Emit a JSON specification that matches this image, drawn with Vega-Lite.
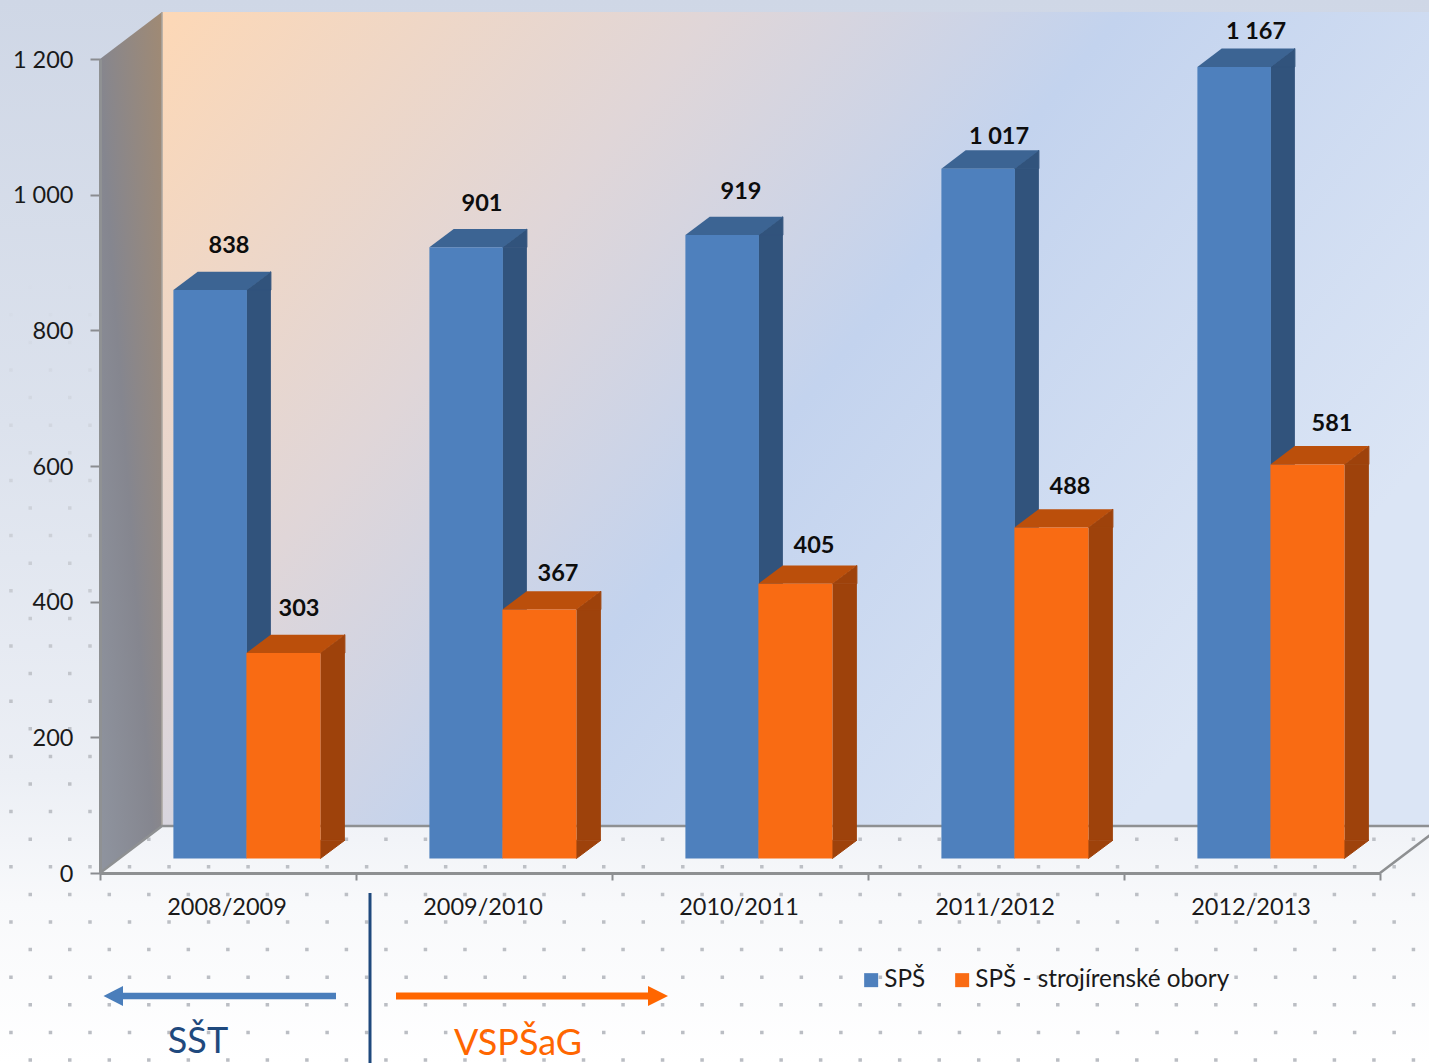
{
"$schema":"https://vega.github.io/schema/vega-lite/v6.json",
"width":1280,"height":814,
"autosize":{"type":"none"},
"padding":{"left":100,"top":59,"right":49,"bottom":190},
"config":{"view":{"stroke":null}},
"datasets":{
"rows":[
{"year":"2008/2009","series":"SPŠ","value":838,"label":"838"},
{"year":"2009/2010","series":"SPŠ","value":901,"label":"901"},
{"year":"2010/2011","series":"SPŠ","value":919,"label":"919"},
{"year":"2011/2012","series":"SPŠ","value":1017,"label":"1 017"},
{"year":"2012/2013","series":"SPŠ","value":1167,"label":"1 167"},
{"year":"2008/2009","series":"SPŠ - strojírenské obory","value":303,"label":"303"},
{"year":"2009/2010","series":"SPŠ - strojírenské obory","value":367,"label":"367"},
{"year":"2010/2011","series":"SPŠ - strojírenské obory","value":405,"label":"405"},
{"year":"2011/2012","series":"SPŠ - strojírenské obory","value":488,"label":"488"},
{"year":"2012/2013","series":"SPŠ - strojírenské obory","value":581,"label":"581"}
],
"decor":[{"note":"frame"}]
},
"data":{"name":"rows"},
"layer":[
{"data":{"name":"decor"},
 "mark":{"type":"bar","width":1429,"xOffset":-25.5,"yOffset":-59,"y2Offset":190,
  "fill":{"gradient":"linear","x1":0,"y1":0,"x2":0,"y2":1,"stops":[{"offset":0,"color":"#cfd7e6"},{"offset":0.4,"color":"#dce2ed"},{"offset":0.73,"color":"#eceff5"},{"offset":0.85,"color":"#f8f9fb"},{"offset":1,"color":"#ffffff"}]}},
 "encoding":{
  "x":{"datum":"2010/2011","type":"nominal","title":null,"scale":{"domain":["2008/2009","2009/2010","2010/2011","2011/2012","2012/2013"],"paddingInner":0,"paddingOuter":0},
   "axis":{"zindex":1,"title":null,"labelAngle":0,"tickBand":"extent","tickSize":7,"tickWidth":2,"tickColor":"#8a8c90","domainColor":"#8e9092","domainWidth":3,"labelPadding":15,"labelOffset":-1.5,"labelFont":"Lato","labelFontSize":23.5,"labelColor":"#1a1a1a","grid":false}},
  "y":{"datum":1200,"type":"quantitative","title":null,"scale":{"domain":[0,1200],"nice":false},
   "axis":{"zindex":1,"title":null,"values":[0,200,400,600,800,1000,1200],"labelExpr":"replace(format(datum.value, ','), ',', ' ')","tickSize":10,"tickWidth":2,"tickColor":"#8a8c90","domainColor":"#8f9193","domainWidth":3,"labelPadding":17,"labelOffset":1,"labelFont":"Lato","labelFontSize":23.5,"labelColor":"#1a1a1a","grid":false}},
  "y2":{"datum":0}}},
{"data":{"name":"decor"},
 "mark":{"type":"point","filled":false,"opacity":1,"size":4,"strokeWidth":3.5,"strokeDash":[3.5,36.02],"xOffset":-228,
  "shape":"M28.5 187H1429M9.2 159.4H1429M28.5 131.8H1429M9.2 104.2H1429M28.5 76.6H1429M9.2 49H1429M28.5 21.4H1429M9.2 -6.2H1429M28.5 -33.8H1429M9.2 -61.4H1429M28.5 -89H1429M9.2 -116.6H1429M28.5 -144.2H1429M9.2 -171.8H1429M28.5 -199.4H1429M9.2 -227H1429M28.5 -254.6H1429M9.2 -282.2H1429M28.5 -309.8H1429M9.2 -337.4H1429M28.5 -365H1429M9.2 -392.6H1429M28.5 -420.2H1429M9.2 -447.8H1429M28.5 -475.4H1429M9.2 -503H1429M28.5 -530.6H1429M9.2 -558.2H1429M28.5 -585.8H1429",
  "stroke":{"gradient":"linear","x1":0,"y1":0,"x2":0,"y2":1,"stops":[{"offset":0,"color":"rgba(186,189,195,0.03)"},{"offset":0.55,"color":"rgba(186,189,195,0.9)"},{"offset":1,"color":"rgba(186,189,195,1)"}]}},
 "encoding":{"x":{"datum":"2008/2009","type":"nominal"},"y":{"datum":0,"type":"quantitative"}}},
{"data":{"name":"decor"},
 "mark":{"type":"bar","width":1280,"xOffset":62,"yOffset":-47,"y2Offset":-47,
  "fill":{"gradient":"linear","x1":0,"y1":0,"x2":1,"y2":0.52,"stops":[{"offset":0,"color":"#fdd8b6"},{"offset":0.34,"color":"#e0d6d8"},{"offset":0.59,"color":"#c3d3ee"},{"offset":1,"color":"#dbe5f5"}]}},
 "encoding":{"x":{"datum":"2010/2011","type":"nominal"},"y":{"datum":1200,"type":"quantitative"},"y2":{"datum":0}}},
{"data":{"name":"decor"},
 "mark":{"type":"point","filled":true,"opacity":1,"size":4,"strokeWidth":0,"xOffset":-128,"shape":"M0 0L62 -47V-861L0 -814Z",
  "fill":{"gradient":"linear","x1":1,"y1":0,"x2":0,"y2":1,"stops":[{"offset":0,"color":"#a08a74"},{"offset":0.55,"color":"#85868f"},{"offset":1,"color":"#8f949f"}]}},
 "encoding":{"x":{"datum":"2008/2009","type":"nominal"},"y":{"datum":0,"type":"quantitative"}}},
{"data":{"name":"decor"},
 "mark":{"type":"point","filled":false,"opacity":1,"size":4,"strokeWidth":1.5,"stroke":"#aaa6a0","xOffset":-128,"shape":"M62 -47V-861"},
 "encoding":{"x":{"datum":"2008/2009","type":"nominal"},"y":{"datum":0,"type":"quantitative"}}},
{"data":{"name":"decor"},
 "mark":{"type":"point","filled":false,"opacity":1,"size":4,"strokeWidth":2.5,"stroke":"#8e9092","xOffset":-128,"shape":"M0 0L62 -47H1329M1280 0L1342 -47"},
 "encoding":{"x":{"datum":"2008/2009","type":"nominal"},"y":{"datum":0,"type":"quantitative"}}},

{"transform":[{"filter":"datum.series=='SPŠ'"}],
 "mark":{"type":"bar","width":24.5,"fill":"#31537c","xOffset":30.65,"yOffset":-14.5,"y2Offset":-32.8},
 "encoding":{"x":{"field":"year","type":"nominal"},"y":{"field":"value","type":"quantitative"},"y2":{"datum":0}}},
{"transform":[{"filter":"datum.series=='SPŠ'"}],
 "mark":{"type":"point","filled":true,"opacity":1,"size":4,"strokeWidth":1,"stroke":"#31537c","fill":"#31537c","xOffset":18.4,"yOffset":-14.5,"shape":"M0 0L24.5 -18.3V0Z"},
 "encoding":{"x":{"field":"year","type":"nominal"},"y":{"field":"value","type":"quantitative"}}},
{"transform":[{"filter":"datum.series=='SPŠ'"}],
 "mark":{"type":"point","filled":true,"opacity":1,"size":4,"strokeWidth":0,"fill":"#3c6493","xOffset":-54.6,"yOffset":-14.5,"shape":"M0 0L24.3 -18.3H97.8L73.5 0Z"},
 "encoding":{"x":{"field":"year","type":"nominal"},"y":{"field":"value","type":"quantitative"}}},
{"transform":[{"filter":"datum.series=='SPŠ'"}],
 "mark":{"type":"bar","width":73.5,"xOffset":-17.85,"yOffset":-14.5,"y2Offset":-14.5},
 "encoding":{
  "x":{"field":"year","type":"nominal"},
  "y":{"field":"value","type":"quantitative"},
  "y2":{"datum":0},
  "color":{"field":"series","type":"nominal","scale":{"domain":["SPŠ","SPŠ - strojírenské obory"],"range":["#4e80bd","#f96b13"]},
   "legend":{"orient":"none","legendX":759,"legendY":909,"direction":"horizontal","title":null,"symbolType":"square","symbolSize":196,"symbolStrokeWidth":0,"labelFont":"Lato","labelFontSize":24.3,"labelColor":"#1a1a1a","labelOffset":1,"labelLimit":500,"columnPadding":24,"symbolOpacity":1,"gridAlign":"none"}}}},

{"transform":[{"filter":"datum.series!='SPŠ'"}],
 "mark":{"type":"bar","width":24.5,"fill":"#9e420b","xOffset":104.65,"yOffset":-14.5,"y2Offset":-32.8},
 "encoding":{"x":{"field":"year","type":"nominal"},"y":{"field":"value","type":"quantitative"},"y2":{"datum":0}}},
{"transform":[{"filter":"datum.series!='SPŠ'"}],
 "mark":{"type":"point","filled":true,"opacity":1,"size":4,"strokeWidth":1,"stroke":"#9e420b","fill":"#9e420b","xOffset":92.4,"yOffset":-14.5,"shape":"M0 0L24.5 -18.3V0Z"},
 "encoding":{"x":{"field":"year","type":"nominal"},"y":{"field":"value","type":"quantitative"}}},
{"transform":[{"filter":"datum.series!='SPŠ'"}],
 "mark":{"type":"point","filled":true,"opacity":1,"size":4,"strokeWidth":1,"stroke":"#9e420b","fill":"#9e420b","xOffset":92.4,"yOffset":-14.5,"shape":"M0 0L24.5 -18.3H0Z"},
 "encoding":{"x":{"field":"year","type":"nominal"},"y":{"datum":0,"type":"quantitative"}}},
{"transform":[{"filter":"datum.series!='SPŠ'"}],
 "mark":{"type":"point","filled":true,"opacity":1,"size":4,"strokeWidth":0,"fill":"#bb4f0b","xOffset":18.4,"yOffset":-14.5,"shape":"M0 0L24.3 -18.3H98.3L74 0Z"},
 "encoding":{"x":{"field":"year","type":"nominal"},"y":{"field":"value","type":"quantitative"}}},
{"transform":[{"filter":"datum.series!='SPŠ'"}],
 "mark":{"type":"bar","width":74,"xOffset":55.4,"yOffset":-14.5,"y2Offset":-14.5},
 "encoding":{"x":{"field":"year","type":"nominal"},"y":{"field":"value","type":"quantitative"},"y2":{"datum":0},
  "color":{"field":"series","type":"nominal"}}},

{"data":{"name":"decor"},
 "mark":{"type":"rule","strokeWidth":3,"stroke":"#1f497d","xOffset":142,"yOffset":20,"y2Offset":190},
 "encoding":{"x":{"datum":"2008/2009","type":"nominal"},"y":{"datum":0,"type":"quantitative"},"y2":{"datum":0}}},
{"data":{"name":"decor"},
 "mark":{"type":"point","filled":true,"opacity":1,"size":4,"strokeWidth":0,"fill":"#4a7ebb","xOffset":-128,"yOffset":123,"shape":"M3.5 0L23 -10V-3.3H236V3.3H23V10Z"},
 "encoding":{"x":{"datum":"2008/2009","type":"nominal"},"y":{"datum":0,"type":"quantitative"}}},
{"data":{"name":"decor"},
 "mark":{"type":"point","filled":true,"opacity":1,"size":4,"strokeWidth":0,"fill":"#ff6600","xOffset":-88,"yOffset":123,"shape":"M0 -3.5H252V-10L272 0L252 10V3.5H0Z"},
 "encoding":{"x":{"datum":"2009/2010","type":"nominal"},"y":{"datum":0,"type":"quantitative"}}},
{"data":{"name":"decor"},
 "mark":{"type":"text","text":"SŠT","font":"Lato","fontSize":36,"color":"#1f497d","align":"center","baseline":"alphabetic","xOffset":-30,"yOffset":180},
 "encoding":{"x":{"datum":"2008/2009","type":"nominal"},"y":{"datum":0,"type":"quantitative"}}},
{"data":{"name":"decor"},
 "mark":{"type":"text","text":"VSPŠaG","font":"Lato","fontSize":36,"color":"#ff6600","align":"center","baseline":"alphabetic","xOffset":34,"yOffset":182},
 "encoding":{"x":{"datum":"2009/2010","type":"nominal"},"y":{"datum":0,"type":"quantitative"}}},

{"transform":[{"filter":"datum.label=='838'"}],"mark":{"type":"text","font":"Lato","fontWeight":"bold","fontSize":23.5,"color":"#0d0d0d","xOffset":1,"yOffset":-58.6},"encoding":{"x":{"field":"year","type":"nominal"},"y":{"field":"value","type":"quantitative"},"text":{"field":"label"}}},
{"transform":[{"filter":"datum.label=='901'"}],"mark":{"type":"text","font":"Lato","fontWeight":"bold","fontSize":23.5,"color":"#0d0d0d","xOffset":-2,"yOffset":-58},"encoding":{"x":{"field":"year","type":"nominal"},"y":{"field":"value","type":"quantitative"},"text":{"field":"label"}}},
{"transform":[{"filter":"datum.label=='919'"}],"mark":{"type":"text","font":"Lato","fontWeight":"bold","fontSize":23.5,"color":"#0d0d0d","xOffset":1,"yOffset":-57.6},"encoding":{"x":{"field":"year","type":"nominal"},"y":{"field":"value","type":"quantitative"},"text":{"field":"label"}}},
{"transform":[{"filter":"datum.label=='1 017'"}],"mark":{"type":"text","font":"Lato","fontWeight":"bold","fontSize":23.5,"color":"#0d0d0d","xOffset":3,"yOffset":-46.4},"encoding":{"x":{"field":"year","type":"nominal"},"y":{"field":"value","type":"quantitative"},"text":{"field":"label"}}},
{"transform":[{"filter":"datum.label=='1 167'"}],"mark":{"type":"text","font":"Lato","fontWeight":"bold","fontSize":23.5,"color":"#0d0d0d","xOffset":4,"yOffset":-49},"encoding":{"x":{"field":"year","type":"nominal"},"y":{"field":"value","type":"quantitative"},"text":{"field":"label"}}},
{"transform":[{"filter":"datum.label=='303'"}],"mark":{"type":"text","font":"Lato","fontWeight":"bold","fontSize":23.5,"color":"#0d0d0d","xOffset":71,"yOffset":-58.5},"encoding":{"x":{"field":"year","type":"nominal"},"y":{"field":"value","type":"quantitative"},"text":{"field":"label"}}},
{"transform":[{"filter":"datum.label=='367'"}],"mark":{"type":"text","font":"Lato","fontWeight":"bold","fontSize":23.5,"color":"#0d0d0d","xOffset":74,"yOffset":-50},"encoding":{"x":{"field":"year","type":"nominal"},"y":{"field":"value","type":"quantitative"},"text":{"field":"label"}}},
{"transform":[{"filter":"datum.label=='405'"}],"mark":{"type":"text","font":"Lato","fontWeight":"bold","fontSize":23.5,"color":"#0d0d0d","xOffset":74,"yOffset":-52},"encoding":{"x":{"field":"year","type":"nominal"},"y":{"field":"value","type":"quantitative"},"text":{"field":"label"}}},
{"transform":[{"filter":"datum.label=='488'"}],"mark":{"type":"text","font":"Lato","fontWeight":"bold","fontSize":23.5,"color":"#0d0d0d","xOffset":74,"yOffset":-55},"encoding":{"x":{"field":"year","type":"nominal"},"y":{"field":"value","type":"quantitative"},"text":{"field":"label"}}},
{"transform":[{"filter":"datum.label=='581'"}],"mark":{"type":"text","font":"Lato","fontWeight":"bold","fontSize":23.5,"color":"#0d0d0d","xOffset":80,"yOffset":-55},"encoding":{"x":{"field":"year","type":"nominal"},"y":{"field":"value","type":"quantitative"},"text":{"field":"label"}}}
]
}
